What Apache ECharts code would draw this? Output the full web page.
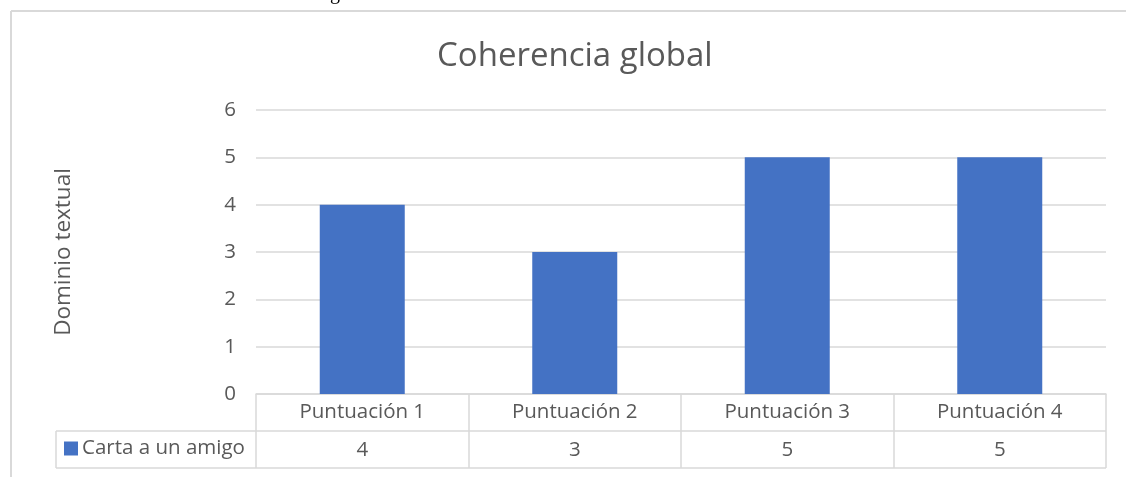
<!DOCTYPE html>
<html>
<head>
<meta charset="utf-8">
<script src="https://cdn.jsdelivr.net/npm/echarts@6/dist/echarts.min.js"></script>
<style>html,body{margin:0;padding:0;background:#fff;}#c{width:1126px;height:477px;}</style>
</head>
<body>
<div id="c"></div>
<script>
const categories = ['Puntuación 1', 'Puntuación 2', 'Puntuación 3', 'Puntuación 4'];
const seriesName = 'Carta a un amigo';
const values = [4, 3, 5, 5];
const yTicks = [0, 1, 2, 3, 4, 5, 6];

const FONT = '"Open Sans", sans-serif';
const TXT = '#595959';
const LINE = '#d9d9d9';
const chart = echarts.init(document.getElementById('c'), null, {renderer: 'canvas'});
const gridLeft = 256, gridRight = 20, gridTop = 110, gridBottom = 83;
const plotBottom = 477 - gridBottom;
const plotRight = 1126 - gridRight;

chart.setOption({
  animation: false,
  backgroundColor: '#fff',
  textStyle: {fontFamily: FONT},
  title: {
    text: 'Coherencia global',
    left: 432, top: 35,
    textStyle: {fontFamily: FONT, fontSize: 33, fontWeight: 'normal', color: TXT}
  },
  legend: {
    data: [seriesName],
    left: 59, top: 433,
    icon: 'rect', itemWidth: 14, itemHeight: 14, itemGap: 5,
    textStyle: {fontFamily: FONT, fontSize: 20.5, color: TXT, padding: [0, 0, 0, -1]}
  },
  grid: {left: gridLeft, right: gridRight, top: gridTop, bottom: gridBottom},
  xAxis: [{
    type: 'category', data: categories, position: 'bottom',
    axisLine: {show: true, lineStyle: {color: LINE, width: 1.5}},
    axisTick: {show: true, alignWithLabel: false, length: 74, lineStyle: {color: LINE, width: 1.5}},
    axisLabel: {fontFamily: FONT, fontSize: 20.5, color: TXT, margin: 8}
  }, {
    type: 'category', data: categories, position: 'bottom', offset: 37,
    axisLine: {show: false}, axisTick: {show: false},
    axisLabel: {fontFamily: FONT, fontSize: 20.5, color: TXT, margin: 9,
      formatter: (v, i) => String(values[i])}
  }],
  yAxis: {
    type: 'value', min: 0, max: yTicks[yTicks.length - 1], interval: 1,
    name: 'Dominio textual', nameLocation: 'middle', nameRotate: 90, nameGap: 181,
    nameTextStyle: {fontFamily: FONT, fontSize: 22.5, color: TXT},
    axisLine: {show: false}, axisTick: {show: false},
    axisLabel: {fontFamily: FONT, fontSize: 20.5, color: TXT, margin: 20},
    splitLine: {lineStyle: {color: LINE, width: 1.5}}
  },
  series: [{
    name: seriesName, type: 'bar', data: values, xAxisIndex: 0,
    barWidth: '40%', itemStyle: {color: '#4472C4'}
  }],
  graphic: [
    {type: 'line', shape: {x1: 11, y1: 11, x2: 1126, y2: 11}, style: {stroke: LINE, lineWidth: 2}},
    {type: 'line', shape: {x1: 11, y1: 11, x2: 11, y2: 477}, style: {stroke: LINE, lineWidth: 2}},
    {type: 'line', shape: {x1: 56, y1: plotBottom + 37, x2: plotRight, y2: plotBottom + 37}, style: {stroke: LINE, lineWidth: 1.5}},
    {type: 'line', shape: {x1: 56, y1: plotBottom + 74, x2: plotRight, y2: plotBottom + 74}, style: {stroke: LINE, lineWidth: 1.5}},
    {type: 'line', shape: {x1: 56, y1: plotBottom + 37, x2: 56, y2: plotBottom + 74}, style: {stroke: LINE, lineWidth: 1.5}},
    {type: 'text', left: 330, top: -16, style: {text: 'g', font: '20px "Liberation Serif", serif', fill: '#000'}}
  ]
});
</script>
</body>
</html>
